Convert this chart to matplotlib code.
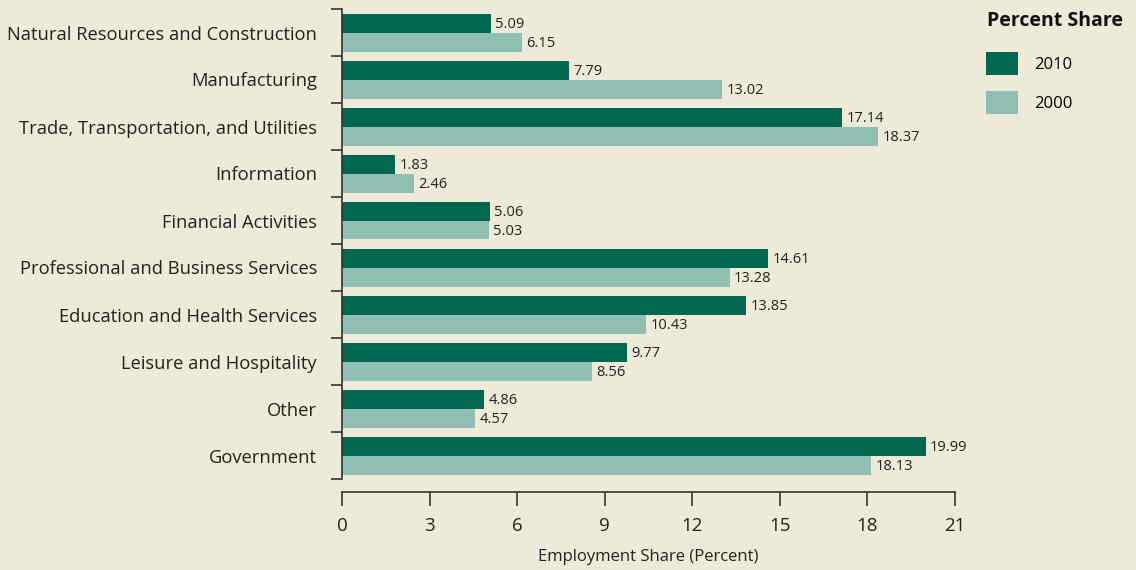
import numpy as np
import matplotlib
matplotlib.use('Agg')
import matplotlib.pyplot as plt
from matplotlib.patches import Patch

categories = ['Natural Resources and Construction', 'Manufacturing',
              'Trade, Transportation, and Utilities', 'Information',
              'Financial Activities', 'Professional and Business Services',
              'Education and Health Services', 'Leisure and Hospitality',
              'Other', 'Government']
share_2010 = [5.09, 7.79, 17.14, 1.83, 5.06, 14.61, 13.85, 9.77, 4.86, 19.99]
share_2000 = [6.15, 13.02, 18.37, 2.46, 5.03, 13.28, 10.43, 8.56, 4.57, 18.13]
x_ticks = [0, 3, 6, 9, 12, 15, 18, 21]

bg = '#EEEAD8'
dark = '#006850'
light = '#8FBEB2'
plt.rcParams['font.family'] = ['Open Sans', 'DejaVu Sans']

fig = plt.figure(figsize=(11.36, 5.70), dpi=100, facecolor=bg)
ax = fig.add_axes([342/1136, (570-492)/570, (955-342)/1136, 483/570])
ax.set_facecolor(bg)

y = np.arange(len(categories))
h = 19/47.
ax.barh(y - h/2, share_2010, height=h, color=dark)
ax.barh(y + h/2, share_2000, height=h, color=light)

# étiquettes de valeur
for yi, v in zip(y, share_2010):
    ax.text(v + 0.15, yi - h/2 + 0.03, '%.2f' % v, va='center', ha='left', fontsize=10.5, color='#222222')
for yi, v in zip(y, share_2000):
    ax.text(v + 0.15, yi + h/2 + 0.03, '%.2f' % v, va='center', ha='left', fontsize=10.5, color='#222222')

ax.set_xlim(0, 21)
ax.set_ylim(9.5 + 13/47., -0.5)
ax.set_xticks(x_ticks)
ax.set_xticklabels([str(t) for t in x_ticks], fontsize=13.5, color='#222222')
ax.set_yticks(y)
ax.set_yticklabels(categories, fontsize=13.2, color='#222222')
ax.set_yticks(np.arange(-0.5, 10, 1), minor=True)
ax.tick_params(axis='y', which='major', length=0, pad=18)
ax.tick_params(axis='y', which='minor', length=8, width=1.2, color='#333333')
ax.tick_params(axis='x', length=10, width=1.2, color='#333333', pad=8)
for s in ['top', 'right']:
    ax.spines[s].set_visible(False)
for s in ['left', 'bottom']:
    ax.spines[s].set_color('#333333')
    ax.spines[s].set_linewidth(1.2)
ax.spines['left'].set_bounds(9.5, -0.5)
ax.set_xlabel('Employment Share (Percent)', fontsize=12, color='#222222', labelpad=10)

# légende
fig.text(987/1136, 1 - 21/570, 'Percent Share', fontsize=14, fontweight='bold',
         ha='left', va='center', color='#111111')
handles = [Patch(facecolor=dark, label='2010'), Patch(facecolor=light, label='2000')]
leg = fig.legend(handles=handles, loc='upper left', bbox_to_anchor=(986/1136, 1 - 52/570),
                 frameon=False, fontsize=12, borderpad=0, borderaxespad=0,
                 handlelength=1.9, handleheight=1.75, handletextpad=1.0, labelspacing=0.95)

fig.savefig('out.png', dpi=100, facecolor=bg)
